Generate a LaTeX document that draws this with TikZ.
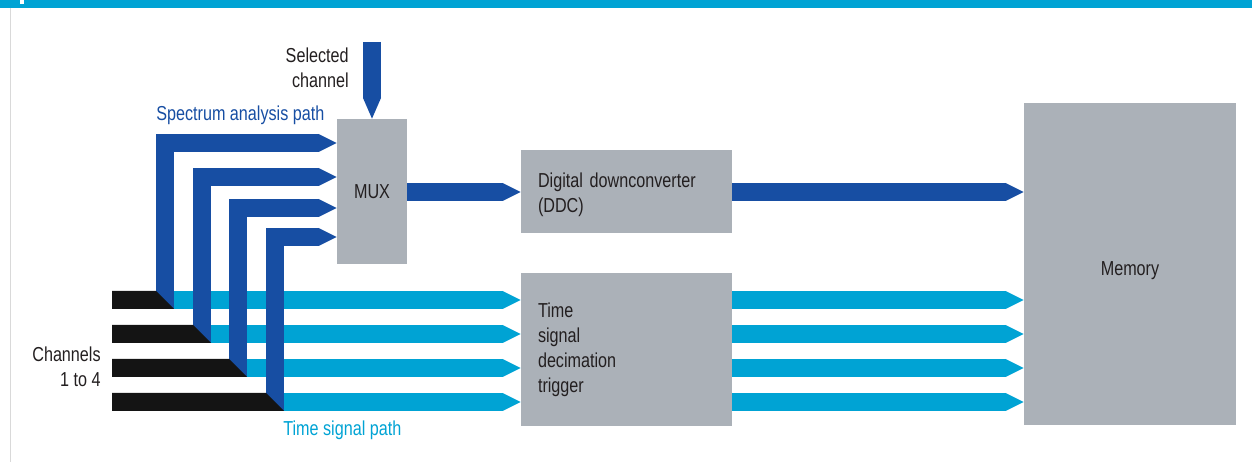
\documentclass[tikz,border=0pt]{standalone}
\usepackage{fontspec}
\setmainfont{Liberation Sans}[FakeStretch=0.8]
\usetikzlibrary{arrows.meta}
\definecolor{sa_blue}{HTML}{174EA3}
\definecolor{ts_cyan}{HTML}{00A3D4}
\definecolor{box_gray}{HTML}{ABB1B8}
\definecolor{in_black}{HTML}{141414}
\definecolor{txt_dark}{HTML}{231F20}
\tikzset{
  lbl/.style = {inner sep=0pt, font=\fontsize{11.5}{14.2}\selectfont,
    text=txt_dark},
  blk_box/.style = {lbl, rectangle, fill=box_gray, inner sep=0pt},% grey block
  fat_b/.style = {sa_blue, line width=0.36cm, line join=miter,
    -{Triangle[length=0pt 1 0, width=0pt 1 0, line width=0pt]}},% spectrum path
  fat_c/.style = {fat_b, ts_cyan},% time signal path
  in_bar/.style = {fill=in_black}% channel input
}

\begin{document}
\begin{tikzpicture}[x=0.02cm, y=-0.02cm]
\useasboundingbox (0,0) rectangle (1252,462);
% frame
\fill[ts_cyan] (0,0) rectangle (1252,8);
\fill[white] (20,0) rectangle (24,4);
\draw[black!15, line width=0.4pt] (10,8) -- (10,462);

% blocks
\node [blk_box, minimum width=1.4cm, minimum height=2.9cm] (mux) at (372,191.5) {MUX};
\node [blk_box, minimum width=4.22cm, minimum height=1.66cm, align=left,
  text width=3.54cm, text height=11.8pt] (ddc) at (626.5,191.5) {Digital downconverter\\(DDC)};
\node [blk_box, minimum width=4.22cm, minimum height=3.06cm, align=left,
  text width=3.54cm] (tsd) at (626.5,349.5) {Time\\signal\\decimation\\trigger};
\node [blk_box, minimum width=4.24cm, minimum height=6.44cm, text height=13.6pt,
  text depth=0pt] (mem) at (1130,264) {Memory};

% labels
\node [lbl, align=right, anchor=east] (selTxt) at (349,68) {Selected\\channel};
\node [lbl, anchor=west, text=sa_blue] (saTxt) at (156,115) {Spectrum analysis path};
\node [lbl, align=right, anchor=east] (chTxt) at (101,367) {Channels\\1 to 4};
\node [lbl, anchor=west, text=ts_cyan] (tsTxt) at (283,430) {Time signal path};

% channel inputs
\coordinate (in1) at (112,300);
\coordinate (in2) at (112,334);
\coordinate (in3) at (112,368);
\coordinate (in4) at (112,402);
\coordinate (tap1) at (165,309);
\coordinate (tap2) at (202,343);
\coordinate (tap3) at (238,377);
\coordinate (tap4) at (275,411);
\coordinate (sel) at (mux.north |- 0,42);

% time signal path
\draw [fat_c] (in1) -- (tsd.west |- in1);
\draw [fat_c] (in2) -- (tsd.west |- in2);
\draw [fat_c] (in3) -- (tsd.west |- in3);
\draw [fat_c] (in4) -- (tsd.west |- in4);
\draw [fat_c] (tsd.east |- in1) -- (mem.west |- in1);
\draw [fat_c] (tsd.east |- in2) -- (mem.west |- in2);
\draw [fat_c] (tsd.east |- in3) -- (mem.west |- in3);
\draw [fat_c] (tsd.east |- in4) -- (mem.west |- in4);

% spectrum analysis path
\draw [fat_b] (tap1) |- (mux.west |- 0,143);
\draw [fat_b] (tap2) |- (mux.west |- 0,177);
\draw [fat_b] (tap3) |- (mux.west |- 0,208);
\draw [fat_b] (tap4) |- (mux.west |- 0,237);
\draw [fat_b, -{Triangle[length=0pt 1.15 0, width=0pt 1 0, line width=0pt]}]
  (sel) -- (mux.north);
\draw [fat_b] (mux.east |- 0,192) -- (ddc.west |- 0,192);
\draw [fat_b] (ddc.east |- 0,192) -- (mem.west |- 0,192);

% black inputs
\fill [in_bar] (in1 |- 0,291) -- (156,291) -- (tap1 -| 174,0) -- (in1 |- tap1) -- cycle;
\fill [in_bar] (in2 |- 0,325) -- (193,325) -- (tap2 -| 211,0) -- (in2 |- tap2) -- cycle;
\fill [in_bar] (in3 |- 0,359) -- (229,359) -- (tap3 -| 247,0) -- (in3 |- tap3) -- cycle;
\fill [in_bar] (in4 |- 0,393) -- (266,393) -- (tap4 -| 284,0) -- (in4 |- tap4) -- cycle;
\end{tikzpicture}
\end{document}
